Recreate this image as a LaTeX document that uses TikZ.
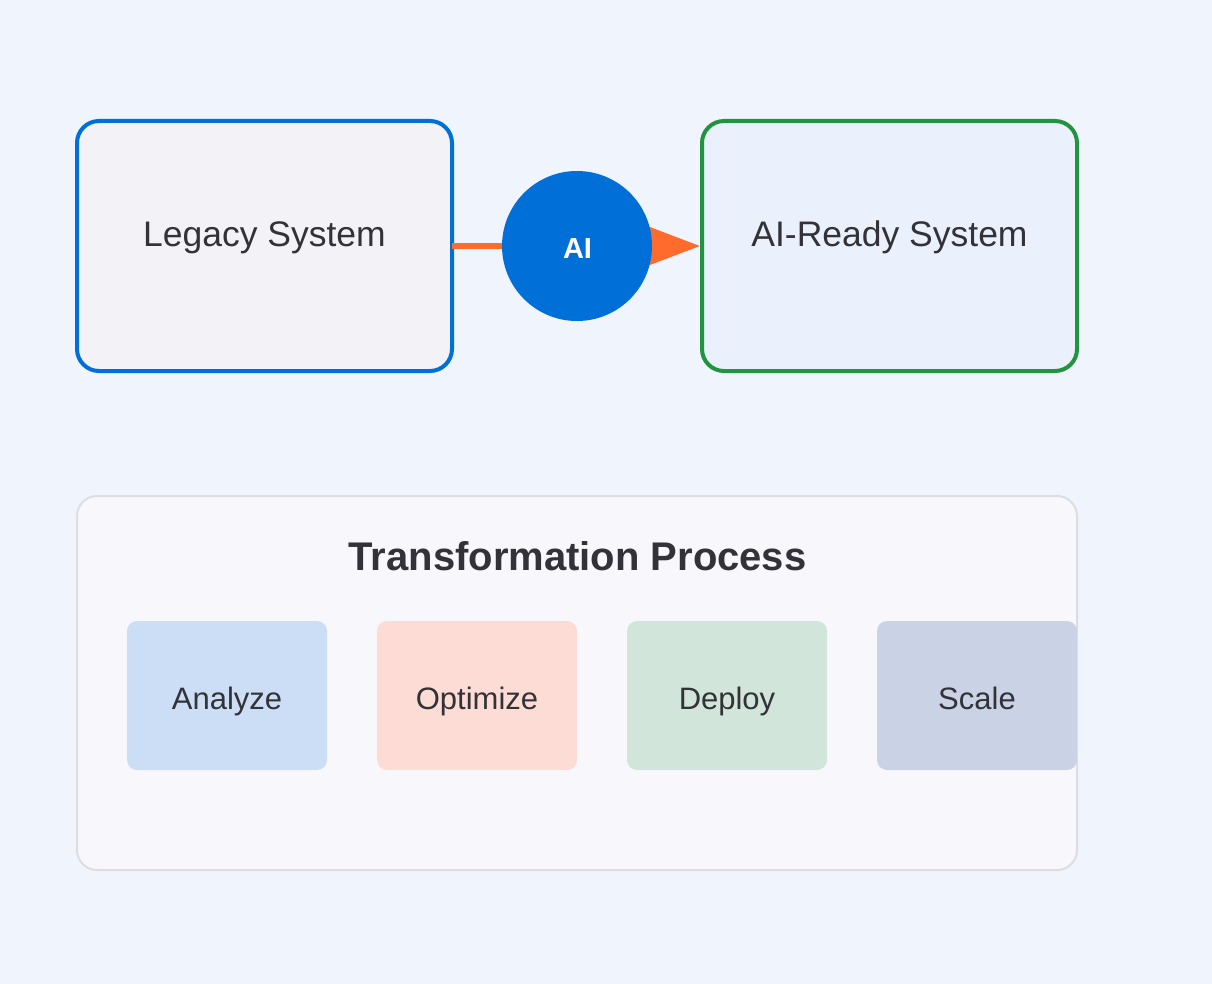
\documentclass[tikz,border=0pt]{standalone}
\usepackage{fontspec}
\setmainfont{Liberation Sans}
\usetikzlibrary{arrows.meta}
\definecolor{bgc}{HTML}{F0F4FC}
\definecolor{txt}{HTML}{323238}
\definecolor{aiblue}{HTML}{0070D8}
\definecolor{okgreen}{HTML}{22943F}
\definecolor{legfill}{HTML}{F3F2F6}
\definecolor{readyfill}{HTML}{EAF1FC}
\definecolor{arrowc}{HTML}{FF6B2C}
\definecolor{procfill}{HTML}{F8F8FC}
\definecolor{procline}{HTML}{DDDDE3}
\definecolor{sA}{HTML}{CCDEF5}
\definecolor{sO}{HTML}{FDDCD6}
\definecolor{sD}{HTML}{D2E5DA}
\definecolor{sS}{HTML}{CAD3E5}
\tikzset{
  sysbox/.style={draw, line width=4pt, rounded corners=22pt, minimum width=375pt, minimum height=250pt, inner sep=0pt},
  systext/.style={text=txt, font=\fontsize{35.5}{40}\selectfont, inner sep=0pt, anchor=base},
  stepbox/.style={rounded corners=10pt, minimum width=200pt, minimum height=149pt, inner sep=0pt},
  steptext/.style={text=txt, font=\fontsize{31}{36}\selectfont, inner sep=0pt, anchor=base},
}
\begin{document}
\begin{tikzpicture}[x=1pt,y=-1pt]
\fill[bgc] (0,0) rectangle (1212,984);
\useasboundingbox (0,0) rectangle (1212,984);
% system boxes
\node[sysbox, draw=aiblue, fill=legfill] (legacy) at (264.5,246) {};
\node[systext] (legacyT) at (264.5,246.5) {Legacy System};
\node[sysbox, draw=okgreen, fill=readyfill] (ready) at (889.5,246) {};
\node[systext] (readyT) at (889.5,246.5) {AI-Ready System};
% arrow
\draw[arrowc, line width=5.5pt, -{Triangle[length=60pt,width=44pt]}, shorten <=-2pt] (legacy.east) -- (ready.west);
\node[circle, fill=aiblue, minimum size=150pt, inner sep=0pt] (ai) at (577,246) {};
\node[text=white, font=\fontsize{29}{34}\selectfont\bfseries, inner sep=0pt, anchor=base] (aiT) at (577.5,258.5) {AI};
% process
\node[draw=procline, line width=2pt, fill=procfill, rounded corners=20pt, minimum width=1000pt, minimum height=374pt, inner sep=0pt] (proc) at (577,683) {};
\node[text=txt, font=\fontsize{40}{46}\selectfont\bfseries, inner sep=0pt, anchor=base] (title) at (577.5,570.5) {Transformation Process};
\node[stepbox, fill=sA] (analyze) at (227,695.5) {};
\node[stepbox, fill=sO] (optimize) at (477,695.5) {};
\node[stepbox, fill=sD] (deploy) at (727,695.5) {};
\node[stepbox, fill=sS] (scale) at (977,695.5) {};
\node[steptext] (analyzeT) at (227,709) {Analyze};
\node[steptext] (optimizeT) at (477,709) {Optimize};
\node[steptext] (deployT) at (727,709) {Deploy};
\node[steptext] (scaleT) at (977,709) {Scale};
\end{tikzpicture}
\end{document}
